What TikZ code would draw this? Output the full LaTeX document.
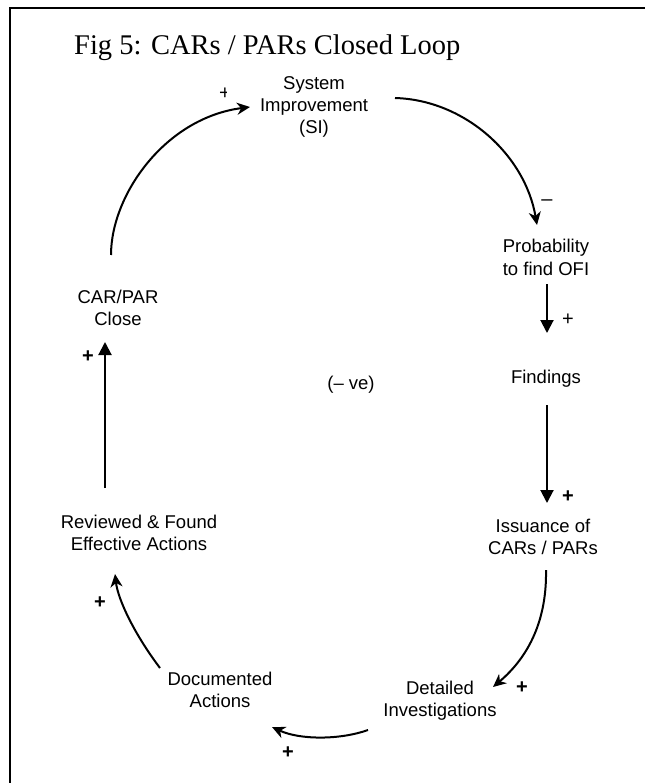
\documentclass[tikz,border=0pt]{standalone}
\usepackage{fontspec}
\setmainfont{Liberation Sans}
\newfontfamily\titlefont{Liberation Serif}
\usetikzlibrary{arrows.meta}

\begin{document}
\begin{tikzpicture}[x=1pt,y=1pt,
  lbl/.style={font=\fontsize{18.5}{22}\selectfont, align=center, inner sep=0pt, anchor=base},
  sgn/.style={font=\fontsize{20}{22}\selectfont, inner sep=0pt},
  sgnb/.style={sgn, font=\fontsize{20}{22}\selectfont\bfseries},
  curved/.style={line width=2pt, -{Stealth[length=13pt,width=12pt,inset=4pt]}},
  straight/.style={line width=2pt, -{Triangle[length=13pt,width=13pt]}},
]
\useasboundingbox (0,0) rectangle (645,-783);

% frame (top and left edges)
\draw[line width=2.2pt, line join=miter] (9.8,-783) -- (9.8,-7.7) -- (645,-7.7);

% title
\node[anchor=base west, inner sep=0pt, font=\titlefont\fontsize{28.5}{34}\selectfont]
  (title) at (74,-55) {Fig 5: CARs / PARs Closed Loop};

% loop variables (base anchor = baseline of the last line)
\node[lbl] (si)    at (314,-133.5) {System\\Improvement\\(SI)};
\node[lbl] (prob)  at (546,-275)   {Probability\\to find OFI};
\node[lbl] (find)  at (546,-383)   {Findings};
\node[lbl] (iss)   at (543,-554)   {Issuance of\\CARs / PARs};
\node[lbl] (det)   at (440,-716.5) {Detailed\\Investigations};
\node[lbl] (doc)   at (220,-707.5) {Documented\\Actions};
\node[lbl] (rev)   at (139,-550.5) {Reviewed \& Found\\Effective Actions};
\node[lbl] (close) at (118,-325.5) {CAR/PAR\\Close};
\node[lbl] (ve)    at (351,-389)   {(\textendash\ ve)};

% causal links
\draw[curved] ([shift={(81,35.5)}]si.base)
  .. controls (465,-100) and (525,-155) .. ([shift={(-9,50)}]prob.base);
\draw[straight] ([shift={(1,-9)}]prob.base) -- ([shift={(1,50)}]find.base);
\draw[straight] ([shift={(1,-22)}]find.base) -- ([shift={(4,51)}]iss.base);
\draw[curved] ([shift={(3,-16)}]iss.base)
  .. controls (547,-625) and (525,-660) .. ([shift={(53,29.5)}]det.base);
\draw[curved] ([shift={(-72,-13.5)}]det.base)
  .. controls (340,-740) and (300,-740) .. ([shift={(52,-19.5)}]doc.base);
\draw[curved] ([shift={(-60,39.5)}]doc.base)
  .. controls (135,-635) and (118,-600) .. ([shift={(-24,-23.5)}]rev.base);
\draw[straight] ([shift={(-34,62.5)}]rev.base) -- ([shift={(-13,-16.5)}]close.base);
\draw[curved] ([shift={(-7,70.5)}]close.base)
  .. controls (111,-195) and (165,-118) .. ([shift={(-64,26.5)}]si.base);

% polarity signs
\begin{scope}
  \clip (205,-80) rectangle (226,-106);
  \node[sgn] (s0) at (225,-93.5) {+};
\end{scope}
\node[sgn]  (s1) at (547,-203) {\textendash};
\node[sgn]  (s2) at (568,-320) {+};
\node[sgnb] (s3) at (568,-497) {+};
\node[sgnb] (s4) at (522,-688) {+};
\node[sgnb] (s5) at (288,-753) {+};
\node[sgnb] (s6) at (100,-603) {+};
\node[sgnb] (s7) at (88,-357)  {+};
\end{tikzpicture}
\end{document}
